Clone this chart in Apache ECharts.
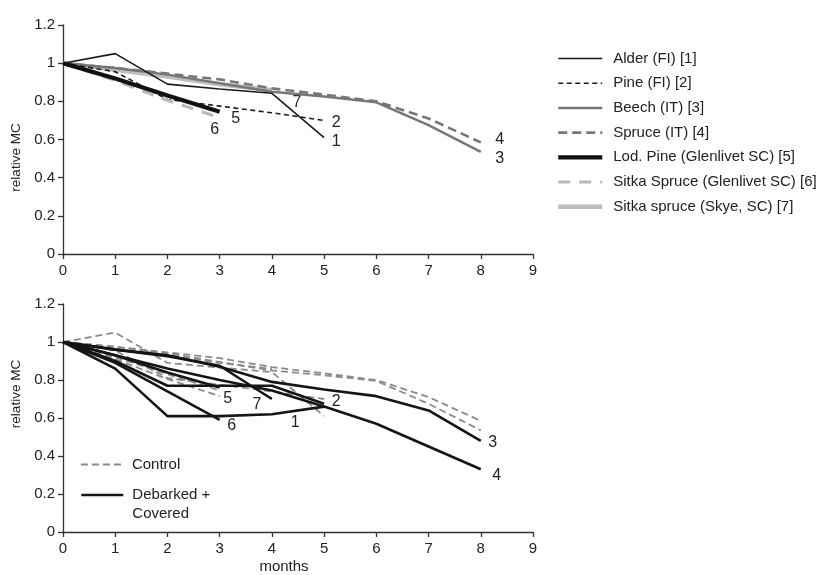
<!DOCTYPE html>
<html>
<head>
<meta charset="utf-8">
<script src="https://cdn.jsdelivr.net/npm/echarts@6/dist/echarts.min.js"></script>
<style>
html,body{margin:0;padding:0;background:#fff;}
#chart{width:821px;height:575px;}
</style>
</head>
<body>
<div id="chart"></div>
<script>
// ---------- data ----------
const months = [0, 1, 2, 3, 4, 5, 6, 7, 8];
const yTicks = [0, 0.2, 0.4, 0.6, 0.8, 1, 1.2];
const xTicks = [0, 1, 2, 3, 4, 5, 6, 7, 8, 9];

const seriesNames = [
  'Alder (FI) [1]',
  'Pine (FI) [2]',
  'Beech (IT) [3]',
  'Spruce (IT) [4]',
  'Lod. Pine (Glenlivet SC) [5]',
  'Sitka Spruce (Glenlivet SC) [6]',
  'Sitka spruce (Skye, SC) [7]'
];
const seriesIds = ['1', '2', '3', '4', '5', '6', '7'];

// control (top panel, also gray dashed in bottom panel)
const ctrlAlder   = [1, 1.05, 0.89, 0.865, 0.842, 0.61];
const ctrlPine    = [1, 0.955, 0.81, 0.775, 0.74, 0.70];
const ctrlBeech   = [1, 0.975, 0.94, 0.895, 0.85, 0.825, 0.795, 0.675, 0.535];
const ctrlSpruce  = [1, 0.975, 0.945, 0.915, 0.868, 0.835, 0.80, 0.71, 0.585];
const ctrlLodPine = [1, 0.92, 0.83, 0.745];
const ctrlSitkaG  = [1, 0.91, 0.805, 0.715];
const ctrlSkye    = [1, 0.965, 0.93, 0.89, 0.858];

// debarked + covered (bottom panel, black)
const debAlder   = [1, 0.86, 0.61, 0.61, 0.62, 0.66];
const debPine    = [1, 0.90, 0.77, 0.77, 0.77, 0.675];
const debBeech   = [1, 0.96, 0.93, 0.87, 0.79, 0.75, 0.715, 0.64, 0.48];
const debSpruce  = [1, 0.93, 0.86, 0.80, 0.745, 0.66, 0.57, 0.45, 0.33];
const debLodPine = [1, 0.93, 0.84, 0.76];
const debSitkaG  = [1, 0.89, 0.74, 0.59];
const debSkye    = [1, 0.96, 0.925, 0.875, 0.70];

const ctrlValues = [ctrlAlder, ctrlPine, ctrlBeech, ctrlSpruce, ctrlLodPine, ctrlSitkaG, ctrlSkye];
const debValues  = [debAlder, debPine, debBeech, debSpruce, debLodPine, debSitkaG, debSkye];

const legendBottom = ['Control', 'Debarked +\nCovered'];

// ---------- styles ----------
const FONT = '"Liberation Sans", Arial, sans-serif';
const topStyles = [
  {color: '#1a1a1a', width: 1.6, type: 'solid'},
  {color: '#1a1a1a', width: 1.6, type: [5, 3.5]},
  {color: '#777777', width: 2.5, type: 'solid'},
  {color: '#777777', width: 2.6, type: [9, 5]},
  {color: '#111111', width: 4.2, type: 'solid'},
  {color: '#b9b9b9', width: 3.2, type: [12, 9]},
  {color: '#bdbdbd', width: 4.5, type: 'solid'}
];
const topZ = [6, 5, 3, 4, 7, 6, 2];
const topLabelOffsets = [[12, 4], [12, 2], [19, 7], [19, -3], [16, 7], [-5, 12], [25, 12]];
const botLabelOffsets = [[-29, 16], [12, -2], [12, 2], [16, 6], [8, 11], [12, 6], [-15, 6]];

function pairs(vals) {
  return vals.map((v, i) => [months[i], v]);
}
function endLabel(i, offs) {
  return {
    show: true,
    formatter: seriesIds[i],
    distance: 0,
    align: 'center',
    verticalAlign: 'middle',
    offset: offs[i],
    fontSize: 16,
    color: '#222',
    fontFamily: FONT
  };
}

const series = [];
ctrlValues.forEach((vals, i) => {
  series.push({
    name: seriesNames[i],
    type: 'line',
    xAxisIndex: 0, yAxisIndex: 0,
    data: pairs(vals),
    symbol: 'none',
    z: topZ[i],
    lineStyle: topStyles[i],
    itemStyle: {color: topStyles[i].color},
    endLabel: endLabel(i, topLabelOffsets),
    animation: false
  });
});
ctrlValues.forEach((vals, i) => {
  series.push({
    name: legendBottom[0],
    type: 'line',
    xAxisIndex: 1, yAxisIndex: 1,
    data: pairs(vals),
    symbol: 'none',
    z: 2,
    lineStyle: {color: '#8a8a8a', width: 1.8, type: [7, 4]},
    itemStyle: {color: '#8a8a8a'},
    animation: false
  });
});
debValues.forEach((vals, i) => {
  series.push({
    name: legendBottom[1],
    type: 'line',
    xAxisIndex: 1, yAxisIndex: 1,
    data: pairs(vals),
    symbol: 'none',
    z: 4,
    lineStyle: {color: '#151515', width: 2.6, type: 'solid'},
    itemStyle: {color: '#151515'},
    endLabel: endLabel(i, botLabelOffsets),
    animation: false
  });
});

function xAxis(gridIndex, withName) {
  return {
    type: 'value', gridIndex,
    min: xTicks[0], max: xTicks[xTicks.length - 1], interval: 1,
    name: withName ? 'months' : '',
    nameLocation: 'middle', nameGap: 27,
    nameTextStyle: {fontSize: 15, color: '#222', fontFamily: FONT, padding: [0, 28, 0, 0]},
    axisLine: {show: true, onZero: false, lineStyle: {color: '#333', width: 1.3}},
    axisTick: {show: true, length: 5, lineStyle: {color: '#333', width: 1.3}},
    axisLabel: {fontSize: 15, color: '#222', fontFamily: FONT, margin: 9},
    splitLine: {show: false}
  };
}
function yAxis(gridIndex, pad) {
  return {
    type: 'value', gridIndex,
    min: yTicks[0], max: yTicks[yTicks.length - 1], interval: 0.2,
    name: 'relative MC',
    nameLocation: 'middle', nameGap: 31, nameRotate: 90,
    nameTextStyle: {fontSize: 13.5, color: '#222', fontFamily: FONT, padding: pad},
    axisLine: {show: true, onZero: false, lineStyle: {color: '#333', width: 1.3}},
    axisTick: {show: true, length: 5, lineStyle: {color: '#333', width: 1.3}},
    axisLabel: {fontSize: 15, color: '#222', fontFamily: FONT, margin: 8,
      formatter: v => String(Math.round(v * 10) / 10)},
    splitLine: {show: false}
  };
}

function bottomLegend(name, top, pad) {
  return {
    data: [name],
    orient: 'vertical',
    left: 80, top: top, padding: 0,
    itemWidth: 42, itemHeight: 14,
    itemStyle: {opacity: 0},
    lineStyle: {width: 'inherit'},
    textStyle: {fontSize: 15, color: '#222', fontFamily: FONT, lineHeight: 19, padding: pad, rich: {}}
  };
}

const option = {
  backgroundColor: '#fff',
  animation: false,
  grid: [
    {left: 63, width: 470, top: 25, height: 229},
    {left: 63, width: 470, top: 304, height: 229}
  ],
  xAxis: [xAxis(0, false), xAxis(1, true)],
  yAxis: [yAxis(0, [0, 36, 0, 0]), yAxis(1, [0, 0, 0, 48])],
  legend: [
    {
      data: seriesNames,
      orient: 'vertical',
      left: 556, top: 51, padding: 0,
      itemWidth: 44, itemHeight: 14, itemGap: 9.7,
      itemStyle: {opacity: 0},
      lineStyle: {width: 'inherit'},
      textStyle: {fontSize: 15, color: '#222', fontFamily: FONT, padding: [0, 0, 0, 6]}
    },
    bottomLegend(legendBottom[0], 455, [0, 0, 0, 4]),
    // top padding so the first text line sits beside the sample line
    bottomLegend(legendBottom[1], 466.5, [19, 0, 0, 4])
  ],
  series
};

const chart = echarts.init(document.getElementById('chart'), null, {renderer: 'canvas'});
chart.setOption(option);
</script>
</body>
</html>
